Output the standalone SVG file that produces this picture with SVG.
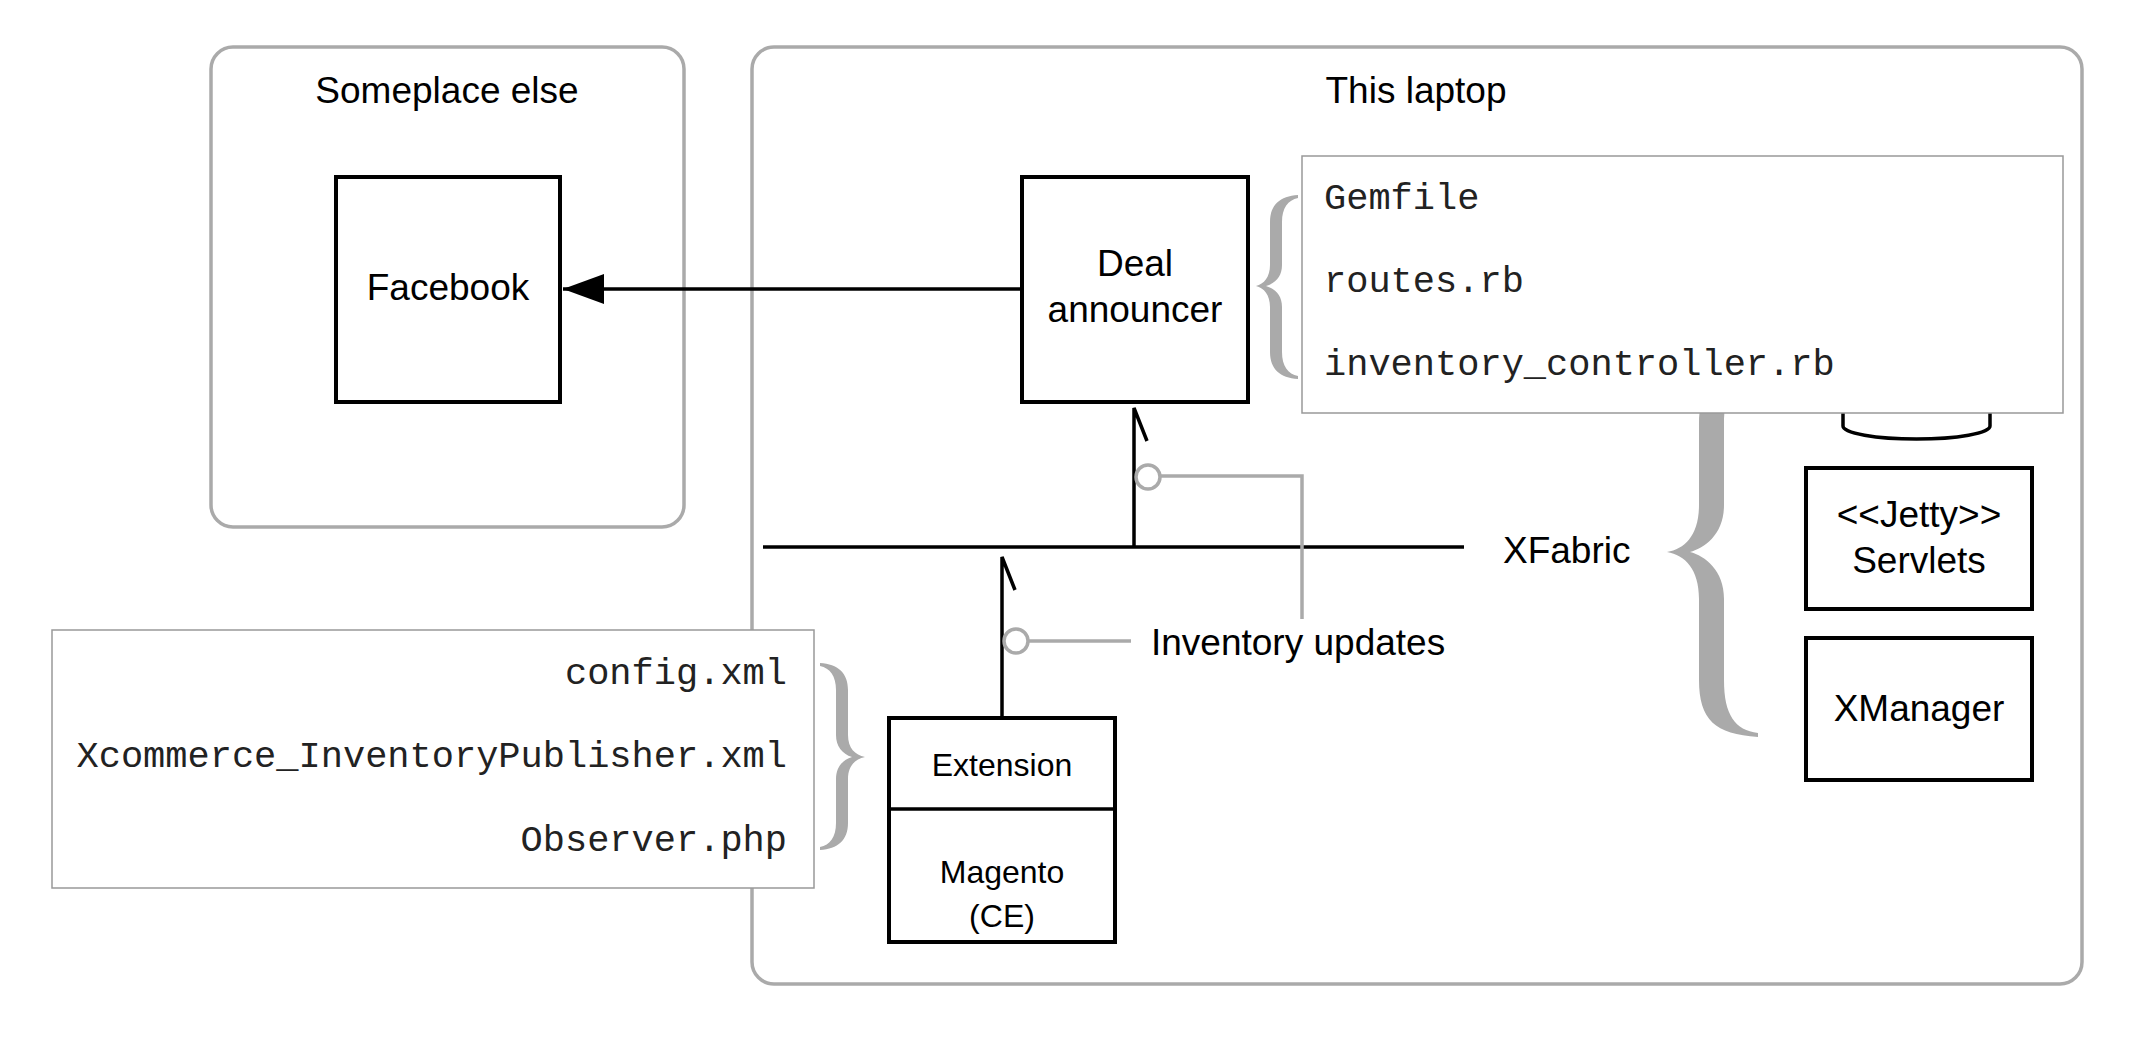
<svg xmlns="http://www.w3.org/2000/svg" width="2129" height="1045" viewBox="0 0 2129 1045">
<defs>
<style>
.container{fill:#fff;stroke:#aaaaaa;stroke-width:3.5}
.node{fill:#fff;stroke:#000;stroke-width:4}
.note{fill:#fff;stroke:#999;stroke-width:1.5}
.lbl{font-family:"Liberation Sans",Arial,Helvetica,sans-serif;font-size:37px;fill:#000;text-anchor:middle}
.sm{font-size:32px}
.mono{font-family:"Liberation Mono","Courier New",monospace;font-size:37px;fill:#222}
.brace{fill:#aaaaaa}
.wire{stroke:#000;stroke-width:3.5;fill:none}
.gray{stroke:#aaaaaa;stroke-width:3.5;fill:none}
.port{stroke:#aaaaaa;stroke-width:3.5;fill:#fff}
</style>
<marker id="arrow" markerUnits="userSpaceOnUse" markerWidth="42" markerHeight="32" refX="41" refY="15" orient="auto">
<path d="M0,0 L41,15 L0,30 Z" fill="#000"/>
</marker>
</defs>
<rect width="2129" height="1045" fill="#fff"/>

<g id="someplace-else">
<rect class="container" x="211" y="47" width="473" height="480" rx="22"/>
<text class="lbl" x="447" y="103">Someplace else</text>
</g>

<g id="this-laptop">
<rect class="container" x="752" y="47" width="1330" height="937" rx="22"/>
<text class="lbl" x="1416" y="103">This laptop</text>
</g>

<g id="connectors">
<line class="wire" x1="1022" y1="289" x2="563" y2="289" marker-end="url(#arrow)"/>
<line id="xfabric-bus" class="wire" x1="763" y1="547" x2="1464" y2="547"/>
<path class="wire" d="M1147,441 L1134,408 L1134,548"/>
<path class="wire" d="M1015,590 L1002,557 L1002,718"/>
<path class="gray" d="M1160,476 L1302,476 L1302,619"/>
<path class="gray" d="M1029,641 L1131,641"/>
<circle class="port" cx="1148" cy="477" r="12"/>
<circle class="port" cx="1016" cy="641" r="12"/>
</g>

<g id="xfabric-label">
<text class="lbl" x="1503" y="563" style="text-anchor:start">XFabric</text>
</g>
<g id="inventory-updates-label">
<text class="lbl" x="1151" y="655" style="text-anchor:start">Inventory updates</text>
</g>

<g id="facebook">
<rect class="node" x="336" y="177" width="224" height="225"/>
<text class="lbl" x="448" y="300">Facebook</text>
</g>

<g id="deal-announcer">
<rect class="node" x="1022" y="177" width="226" height="225"/>
<text class="lbl" x="1135" y="276">Deal</text>
<text class="lbl" x="1135" y="322">announcer</text>
</g>

<g id="magento">
<rect class="node" x="889" y="718" width="226" height="224"/>
<line class="wire" x1="889" y1="809" x2="1115" y2="809"/>
<text class="lbl sm" x="1002" y="776">Extension</text>
<text class="lbl sm" x="1002" y="883">Magento</text>
<text class="lbl sm" x="1002" y="927">(CE)</text>
</g>

<g id="database">
<path class="wire" d="M1843,405 L1843,426 A73.5,13 0 0 0 1990,426 L1990,405"/>
</g>

<g id="jetty-servlets">
<rect class="node" x="1806" y="468" width="226" height="141"/>
<text class="lbl" x="1919" y="527">&lt;&lt;Jetty&gt;&gt;</text>
<text class="lbl" x="1919" y="573">Servlets</text>
</g>

<g id="xmanager">
<rect class="node" x="1806" y="638" width="226" height="142"/>
<text class="lbl" x="1919" y="721">XManager</text>
</g>

<g id="xfabric-brace">
<path class="brace" d="M1758,367 C1715,370 1699,385 1699,425 L1699,505 C1699,535 1685,549 1667,552 C1685,555 1699,569 1699,599 L1699,680 C1699,720 1715,734 1758,737 L1758,733 C1735,730 1724,715 1724,680 L1724,599 C1724,570 1705,556 1690,552 C1705,548 1724,534 1724,505 L1724,425 C1724,390 1735,374 1758,371 Z"/>
</g>

<g id="deal-files">
<rect class="note" x="1302" y="156" width="761" height="257"/>
<text class="mono" x="1324" y="209">Gemfile</text>
<text class="mono" x="1324" y="292">routes.rb</text>
<text class="mono" x="1324" y="375">inventory_controller.rb</text>
</g>
<g id="deal-brace">
<path class="brace" d="M1298,195 C1280,196 1270,205 1270,222 L1270,265 C1270,277 1264,284 1256,286 C1264,288 1270,295 1270,307 L1270,352 C1270,369 1280,378 1298,379 L1298,376 C1288,374 1282,366 1282,352 L1282,307 C1282,296 1276,289 1266,286 C1276,283 1282,276 1282,265 L1282,222 C1282,208 1288,200 1298,198 Z"/>
</g>

<g id="magento-files">
<rect class="note" x="52" y="630" width="762" height="258"/>
<text class="mono" x="787" y="684" text-anchor="end">config.xml</text>
<text class="mono" x="787" y="767" text-anchor="end">Xcommerce_InventoryPublisher.xml</text>
<text class="mono" x="787" y="851" text-anchor="end">Observer.php</text>
</g>
<g id="magento-brace">
<path class="brace" d="M820,663 C838,664 848,673 848,690 L848,735 C848,748 855,755 865,757 C855,759 848,766 848,779 L848,823 C848,840 838,849 820,850 L820,847 C830,845 836,837 836,823 L836,779 C836,768 842,760 852,757 C842,754 836,746 836,735 L836,690 C836,676 830,668 820,666 Z"/>
</g>
</svg>
